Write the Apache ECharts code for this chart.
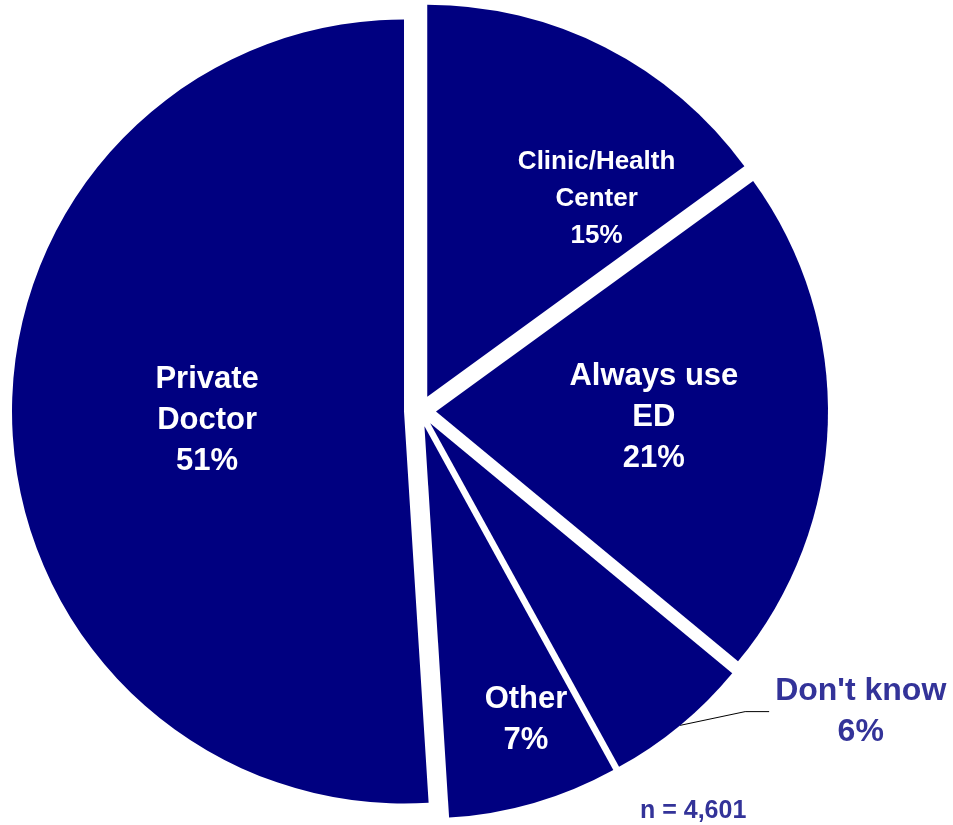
<!DOCTYPE html>
<html>
<head>
<meta charset="utf-8">
<title>Usual source of care</title>
<script src="https://cdn.jsdelivr.net/npm/echarts@6/dist/echarts.min.js"></script>
<style>
    html, body { margin: 0; padding: 0; background: #fff; }
    #main { width: 953px; height: 825px; }
</style>
</head>
<body>
<div id="main"></div>
<script>
// slices, clockwise from 12 o'clock
var categories = ['Clinic/Health\nCenter', 'Always use\nED', "Don't know", 'Other', 'Private\nDoctor'];
var shares = [15, 21, 6, 7, 51];
var sampleNote = 'n = 4,601';

// label nudges (px) away from the library's default position
var labelShift = [[79, -21], [19, 0], [143, -23], [46, 102], [2, 3]];
// this one sits outside the pie with a leader line
var outsideIndex = 2;

var FONT = '"Liberation Sans", Arial, sans-serif';
var NAVY = '#000080';
var LABEL_BLUE = '#333399';

var chart = echarts.init(document.getElementById('main'));

var pieData = categories.map(function (name, i) {
    var item = { name: name, value: shares[i], selected: true };
    if (i === 0) {
        item.label = { fontSize: 26, lineHeight: 37 };
    }
    if (i === outsideIndex) {
        item.label = { position: 'outside', color: LABEL_BLUE, fontSize: 32, lineHeight: 41 };
        item.labelLine = { show: true, length: 12, length2: 25, lineStyle: { color: '#000', width: 1 } };
    }
    return item;
});

var option = {
    animation: false,
    backgroundColor: '#fff',
    title: {
        text: sampleNote,
        left: 635,
        top: 794,
        textStyle: { color: LABEL_BLUE, fontSize: 25, fontWeight: 'bold', fontFamily: FONT }
    },
    series: [{
        type: 'pie',
        center: [420, 411],
        radius: 392,
        startAngle: 90,
        clockwise: true,
        selectedMode: 'multiple',
        selectedOffset: 16,
        avoidLabelOverlap: false,
        itemStyle: { color: NAVY, borderWidth: 0 },
        select: { itemStyle: { color: NAVY } },
        emphasis: { disabled: true },
        label: {
            show: true,
            position: 'inside',
            formatter: '{b}\n{c}%',
            color: '#fff',
            fontFamily: FONT,
            fontWeight: 'bold',
            fontSize: 31,
            lineHeight: 41
        },
        labelLine: { show: false },
        labelLayout: function (params) {
            var i = params.dataIndex;
            var dx = labelShift[i][0], dy = labelShift[i][1];
            if (i !== outsideIndex) {
                return { dx: dx, dy: dy };
            }
            // leader: from the slice edge, a short rise, then flat into the label
            var r = params.labelRect;
            var cx = r.x + dx;
            var cy = r.y + r.height / 2 + dy;
            var endX = cx - r.width / 2 - 6;
            var pts = params.labelLinePoints;
            return {
                dx: dx,
                dy: dy,
                align: 'center',
                labelLinePoints: [pts[0], [endX - 24, cy], [endX, cy]]
            };
        },
        data: pieData
    }]
};

chart.setOption(option);
</script>
</body>
</html>
